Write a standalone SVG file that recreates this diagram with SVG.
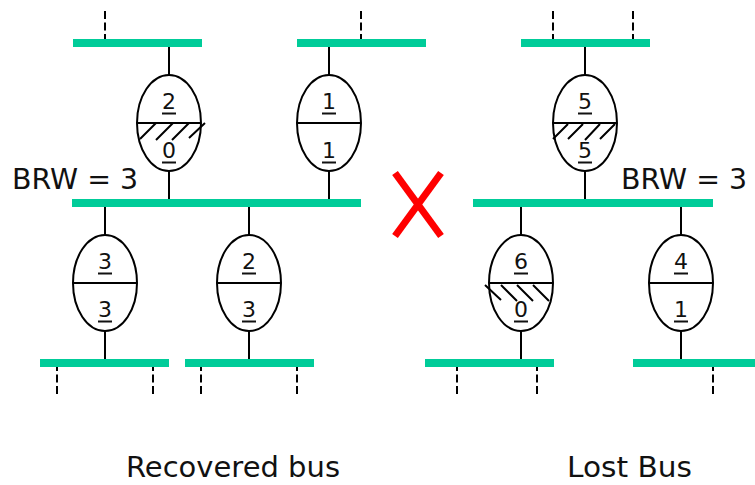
<svg xmlns="http://www.w3.org/2000/svg" width="755" height="485" viewBox="0 0 755 485">
  <style>
    .bus { fill: #00cc99; }
    .sw { fill: #ffffff; stroke: #000000; stroke-width: 2; }
    .div { stroke: #000000; stroke-width: 2; }
    .hatch { stroke: #000000; stroke-width: 2; fill: none; }
    .wire { stroke: #000000; stroke-width: 2; fill: none; }
    .ext { stroke: #000000; stroke-width: 2; stroke-dasharray: 8 3.5; fill: none; }
    .num { font-family: "DejaVu Sans", Verdana, sans-serif; font-size: 22px; text-anchor: middle; fill: #111111; }
    .ul { stroke: #111111; stroke-width: 2; }
    .lbl { font-family: "DejaVu Sans", Verdana, sans-serif; font-size: 28px; fill: #111111; }
    .cross { stroke: #ff0000; stroke-width: 7; stroke-linecap: butt; }
  </style>
  <rect width="755" height="485" fill="#ffffff"/>

  <!-- wiring: taps from switches to buses, and continuation stubs -->
  <g id="connectors">
    <line class="wire" x1="169" y1="43" x2="169" y2="75"/>
    <line class="wire" x1="169" y1="171" x2="169" y2="203"/>
    <line class="wire" x1="329" y1="43" x2="329" y2="75"/>
    <line class="wire" x1="329" y1="171" x2="329" y2="203"/>
    <line class="wire" x1="105" y1="203" x2="105" y2="235"/>
    <line class="wire" x1="105" y1="331" x2="105" y2="363"/>
    <line class="wire" x1="249" y1="203" x2="249" y2="235"/>
    <line class="wire" x1="249" y1="331" x2="249" y2="363"/>
    <line class="wire" x1="585" y1="43" x2="585" y2="75"/>
    <line class="wire" x1="585" y1="171" x2="585" y2="203"/>
    <line class="wire" x1="521" y1="203" x2="521" y2="235"/>
    <line class="wire" x1="521" y1="331" x2="521" y2="363"/>
    <line class="wire" x1="681" y1="203" x2="681" y2="235"/>
    <line class="wire" x1="681" y1="331" x2="681" y2="363"/>
    <!-- dashed stubs to further buses -->
    <line class="ext" x1="105" y1="11" x2="105" y2="43"/>
    <line class="ext" x1="361" y1="11" x2="361" y2="43"/>
    <line class="ext" x1="553" y1="11" x2="553" y2="43"/>
    <line class="ext" x1="633" y1="11" x2="633" y2="43"/>
    <line class="ext" x1="57" y1="363" x2="57" y2="396"/>
    <line class="ext" x1="153" y1="363" x2="153" y2="396"/>
    <line class="ext" x1="201" y1="363" x2="201" y2="396"/>
    <line class="ext" x1="297" y1="363" x2="297" y2="396"/>
    <line class="ext" x1="457" y1="363" x2="457" y2="396"/>
    <line class="ext" x1="537" y1="363" x2="537" y2="396"/>
    <line class="ext" x1="713" y1="363" x2="713" y2="396"/>
  </g>

  <!-- buses -->
  <g id="bus-top-1"><rect class="bus" x="73" y="39" width="129" height="8"/></g>
  <g id="bus-top-2"><rect class="bus" x="297" y="39" width="129" height="8"/></g>
  <g id="bus-top-3"><rect class="bus" x="521" y="39" width="129" height="8"/></g>
  <g id="bus-recovered"><rect class="bus" x="72" y="199" width="289" height="8"/></g>
  <g id="bus-lost"><rect class="bus" x="473" y="199" width="240" height="8"/></g>
  <g id="bus-bottom-1"><rect class="bus" x="40" y="359" width="129" height="8"/></g>
  <g id="bus-bottom-2"><rect class="bus" x="185" y="359" width="129" height="8"/></g>
  <g id="bus-bottom-3"><rect class="bus" x="425" y="359" width="129" height="8"/></g>
  <g id="bus-bottom-4"><rect class="bus" x="633" y="359" width="122" height="8"/></g>

  <!-- switches: upper number / lower number, hatched half = no spare capacity -->
  <g id="sw-2-0">
    <ellipse class="sw" cx="169" cy="123" rx="32" ry="48"/>
    <line class="div" x1="137" y1="123" x2="201" y2="123"/>
    <path class="hatch" d="M140 139 L156 123 M156 140 L173 123 M172 140 L189 123 M189 138 L205 123"/>
    <text class="num" x="169" y="109">2</text>
    <line class="ul" x1="162" y1="113.5" x2="176" y2="113.5"/>
    <text class="num" x="169" y="158">0</text>
    <line class="ul" x1="162" y1="162.5" x2="176" y2="162.5"/>
  </g>
  <g id="sw-1-1">
    <ellipse class="sw" cx="329" cy="123" rx="32" ry="48"/>
    <line class="div" x1="297" y1="123" x2="361" y2="123"/>
    <text class="num" x="329" y="109">1</text>
    <line class="ul" x1="322" y1="113.5" x2="336" y2="113.5"/>
    <text class="num" x="329" y="158">1</text>
    <line class="ul" x1="322" y1="162.5" x2="336" y2="162.5"/>
  </g>
  <g id="sw-3-3">
    <ellipse class="sw" cx="105" cy="283" rx="32" ry="48"/>
    <line class="div" x1="73" y1="283" x2="137" y2="283"/>
    <text class="num" x="105" y="269">3</text>
    <line class="ul" x1="98" y1="273.5" x2="112" y2="273.5"/>
    <text class="num" x="105" y="317">3</text>
    <line class="ul" x1="98" y1="321.5" x2="112" y2="321.5"/>
  </g>
  <g id="sw-2-3">
    <ellipse class="sw" cx="249" cy="283" rx="32" ry="48"/>
    <line class="div" x1="217" y1="283" x2="281" y2="283"/>
    <text class="num" x="249" y="269">2</text>
    <line class="ul" x1="242" y1="273.5" x2="256" y2="273.5"/>
    <text class="num" x="249" y="317">3</text>
    <line class="ul" x1="242" y1="321.5" x2="256" y2="321.5"/>
  </g>
  <g id="sw-5-5">
    <ellipse class="sw" cx="585" cy="123" rx="32" ry="48"/>
    <line class="div" x1="553" y1="123" x2="617" y2="123"/>
    <path class="hatch" d="M553 139 L568 124 M568 139 L583 124 M585 140 L600 124 M600 139 L615 124"/>
    <text class="num" x="585" y="109">5</text>
    <line class="ul" x1="578" y1="113.5" x2="592" y2="113.5"/>
    <text class="num" x="585" y="158">5</text>
    <line class="ul" x1="578" y1="162.5" x2="592" y2="162.5"/>
  </g>
  <g id="sw-6-0">
    <ellipse class="sw" cx="521" cy="283" rx="32" ry="48"/>
    <line class="div" x1="489" y1="283" x2="553" y2="283"/>
    <path class="hatch" d="M485 285 L501 300 M501 285 L517 301 M517 285 L533 301 M533 285 L549 301"/>
    <text class="num" x="521" y="269">6</text>
    <line class="ul" x1="514" y1="273.5" x2="528" y2="273.5"/>
    <text class="num" x="521" y="317">0</text>
    <line class="ul" x1="514" y1="321.5" x2="528" y2="321.5"/>
  </g>
  <g id="sw-4-1">
    <ellipse class="sw" cx="681" cy="283" rx="32" ry="48"/>
    <line class="div" x1="649" y1="283" x2="713" y2="283"/>
    <text class="num" x="681" y="269">4</text>
    <line class="ul" x1="674" y1="273.5" x2="688" y2="273.5"/>
    <text class="num" x="681" y="317">1</text>
    <line class="ul" x1="674" y1="321.5" x2="688" y2="321.5"/>
  </g>

  <!-- failure mark -->
  <g id="fault">
    <line class="cross" x1="395" y1="173" x2="441" y2="236"/>
    <line class="cross" x1="441" y1="173" x2="395" y2="236"/>
  </g>

  <!-- labels -->
  <g id="labels">
    <text class="lbl" x="12" y="189" textLength="126" lengthAdjust="spacingAndGlyphs">BRW = 3</text>
    <text class="lbl" x="621" y="189" textLength="126" lengthAdjust="spacingAndGlyphs">BRW = 3</text>
    <text class="lbl" x="126" y="477" textLength="214" lengthAdjust="spacingAndGlyphs">Recovered bus</text>
    <text class="lbl" x="567" y="477" textLength="125" lengthAdjust="spacingAndGlyphs">Lost Bus</text>
  </g>
</svg>
